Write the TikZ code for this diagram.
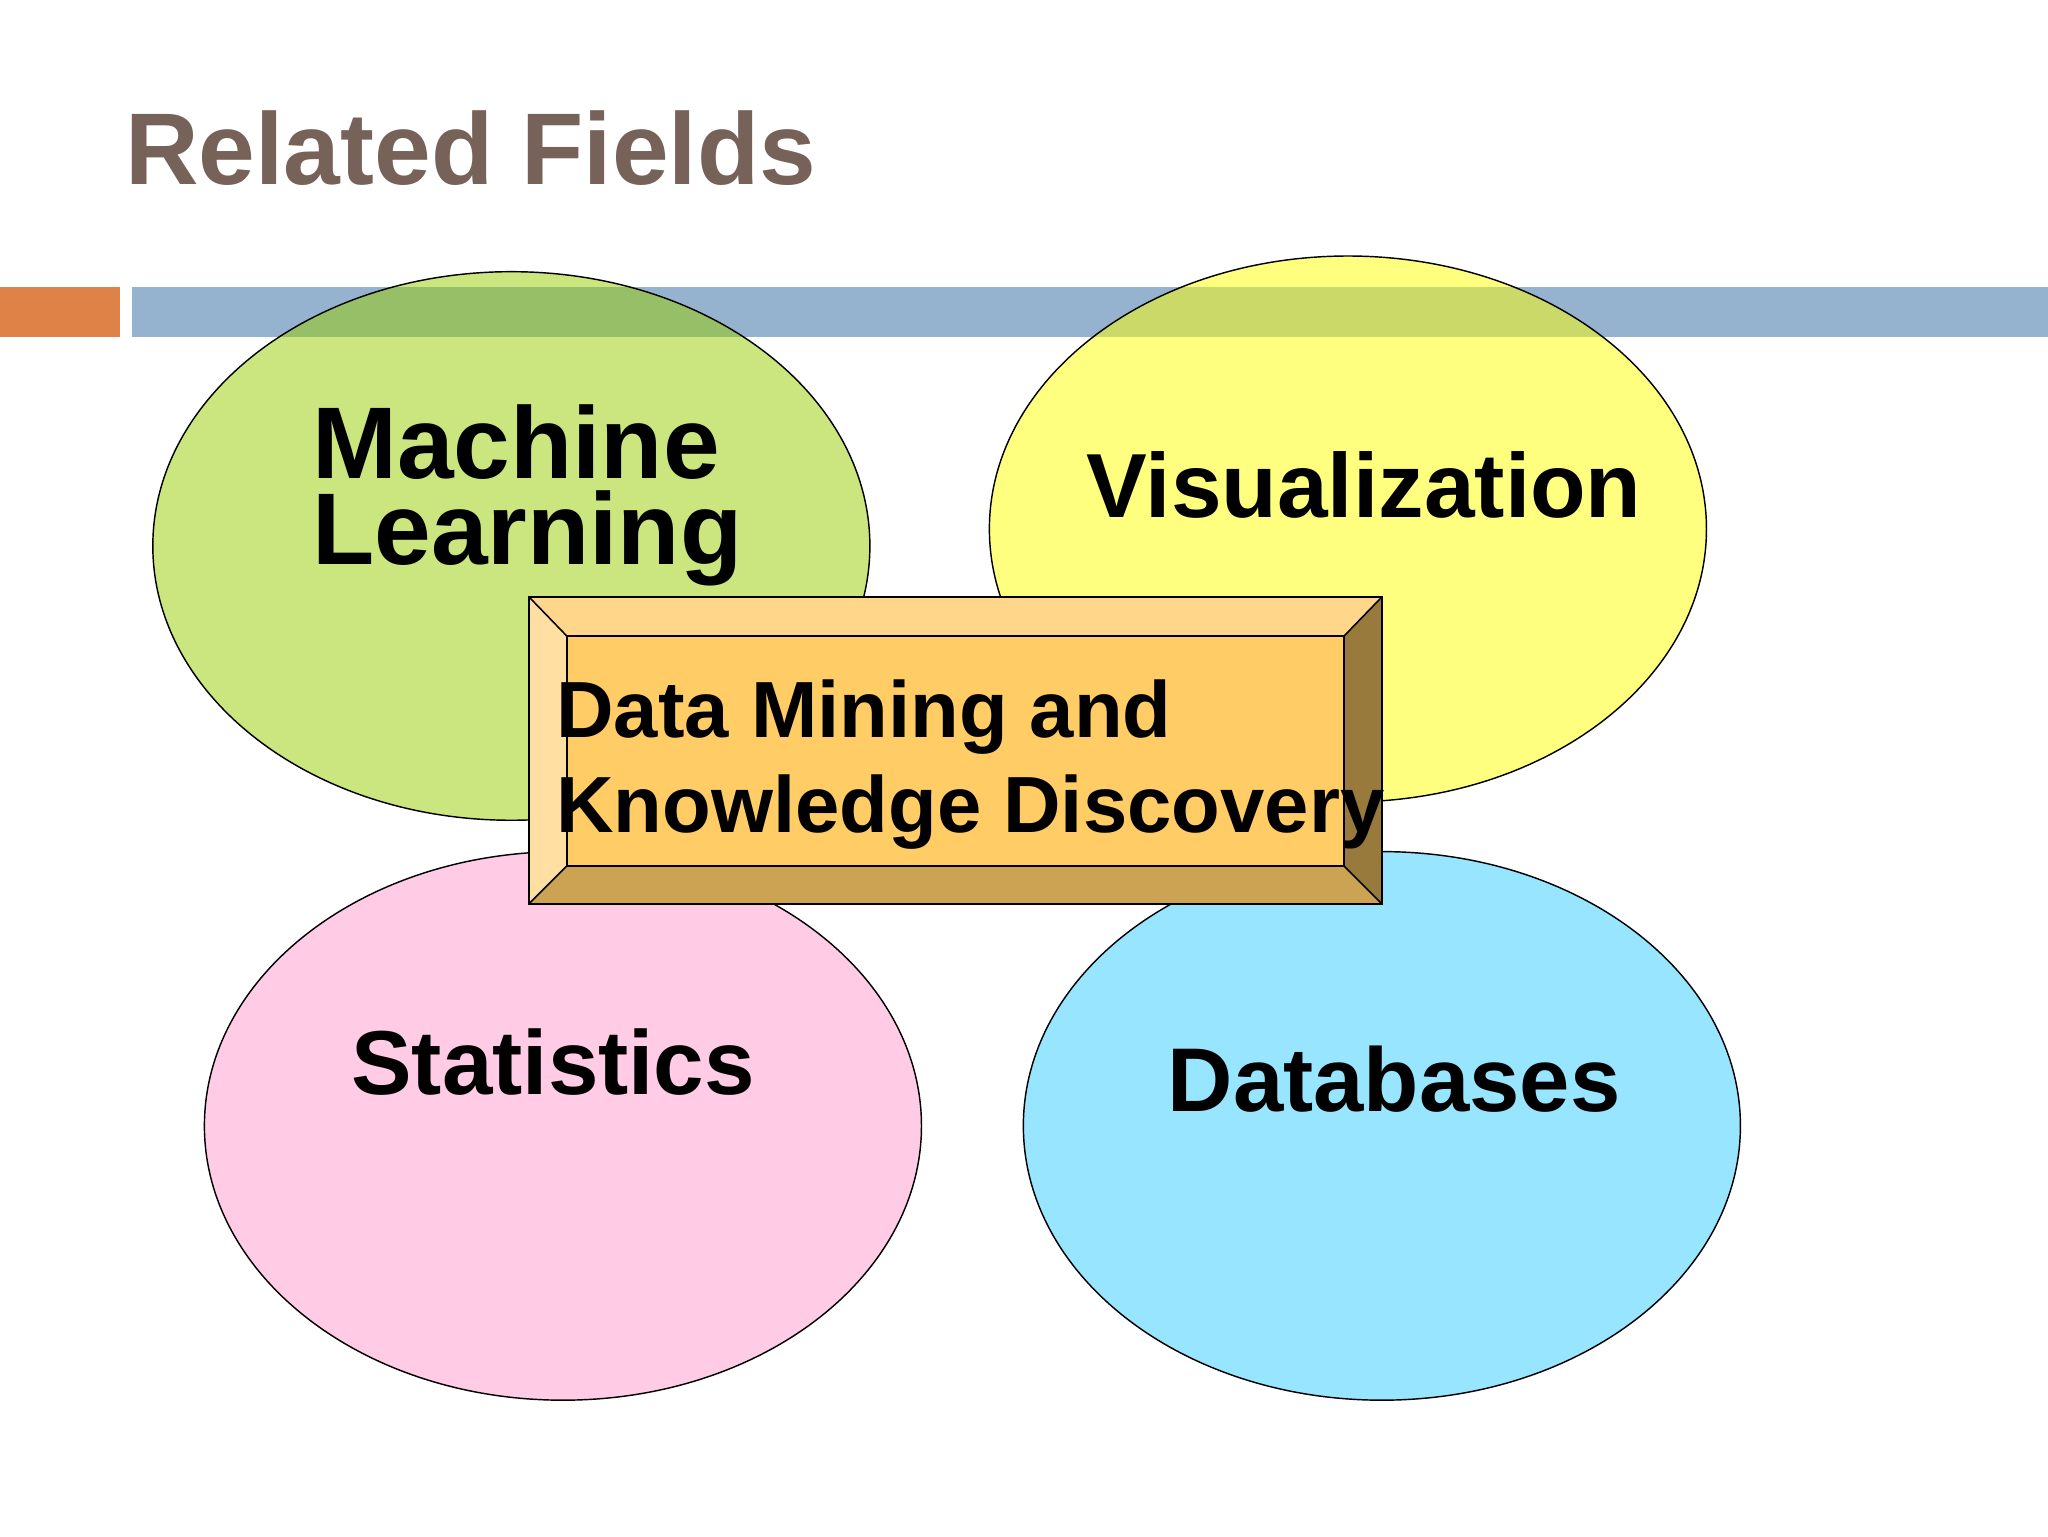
\documentclass[tikz,border=0pt]{standalone}
\usepackage{fontspec}
\setmainfont{Liberation Sans}
\usetikzlibrary{shapes.geometric}
\definecolor{titlebrown}{RGB}{118,98,88}
\definecolor{barorange}{RGB}{223,130,72}
\definecolor{barblue}{RGB}{149,179,207}
\definecolor{mlgreen}{RGB}{153,204,0}
\definecolor{visyellow}{RGB}{255,255,0}
\definecolor{statpink}{RGB}{255,153,204}
\definecolor{dbblue}{RGB}{51,204,255}
\definecolor{bevtop}{RGB}{255,214,138}
\definecolor{bevleft}{RGB}{255,224,162}
\definecolor{bevmid}{RGB}{255,204,102}
\definecolor{bevbottom}{RGB}{204,163,82}
\definecolor{bevright}{RGB}{153,122,61}
\begin{document}
\begin{tikzpicture}[x=1pt,y=-1pt,
  field/.style={ellipse, draw=black, line width=1.1pt, fill opacity=0.5, inner sep=0pt,
                minimum width=549pt, minimum height=420pt},
  lbl/.style={anchor=base west, inner sep=0pt, outer sep=0pt, text=black},
  edgeline/.style={draw=black, line width=1.2pt, line join=miter}]
\useasboundingbox[fill=white] (0,0) rectangle (1568,1176);
% title
\node[lbl, text=titlebrown, font=\fontsize{78}{78}\selectfont\bfseries] (title) at (96,141) {Related Fields};
% bars
\fill[barorange] (0,220) rectangle (92,258);
\fill[barblue] (101,220) rectangle (1568,258);
% ellipses
\node[field, fill=mlgreen] (ml) at (391.5,418) {};
\node[field, fill=visyellow, minimum height=418pt] (vis) at (1032,405) {};
\node[field, fill=statpink] (stat) at (431,862) {};
\node[field, fill=dbblue] (db) at (1058,862) {};
% ellipse labels
\node[lbl, font=\fontsize{78}{78}\selectfont\bfseries] (mltxta) at (239,366) {Machine};
\node[lbl, font=\fontsize{78}{78}\selectfont\bfseries] (mltxtb) at (239,432) {Learning};
\node[lbl, font=\fontsize{69.7}{69.7}\selectfont\bfseries] (vistxt) at (832,396) {Visualization};
\node[lbl, font=\fontsize{69.5}{69.5}\selectfont\bfseries] (stattxt) at (269,838) {Statistics};
\node[lbl, font=\fontsize{69.3}{69.3}\selectfont\bfseries] (dbtxt) at (894,851) {Databases};
% bevelled box
\coordinate (oA) at (405,457);
\coordinate (oB) at (1058,457);
\coordinate (oC) at (1058,692);
\coordinate (oD) at (405,692);
\coordinate (iA) at (434,487);
\coordinate (iB) at (1029,487);
\coordinate (iC) at (1029,663);
\coordinate (iD) at (434,663);
\fill[bevtop] (oA) -- (oB) -- (iB) -- (iA) -- cycle;
\fill[bevright] (oB) -- (oC) -- (iC) -- (iB) -- cycle;
\fill[bevbottom] (oD) -- (oC) -- (iC) -- (iD) -- cycle;
\fill[bevleft] (oA) -- (iA) -- (iD) -- (oD) -- cycle;
\fill[bevmid] (iA) rectangle (iC);
\draw[edgeline] (oA) rectangle (oC);
\draw[edgeline] (iA) rectangle (iC);
\draw[edgeline] (oA) -- (iA);
\draw[edgeline] (oB) -- (iB);
\draw[edgeline] (oC) -- (iC);
\draw[edgeline] (oD) -- (iD);
\node[lbl, font=\fontsize{61}{61}\selectfont\bfseries] (dmtxta) at (426,565) {Data Mining and};
\node[lbl, font=\fontsize{61}{61}\selectfont\bfseries] (dmtxtb) at (426,637) {Knowledge Discovery};
\end{tikzpicture}
\end{document}
